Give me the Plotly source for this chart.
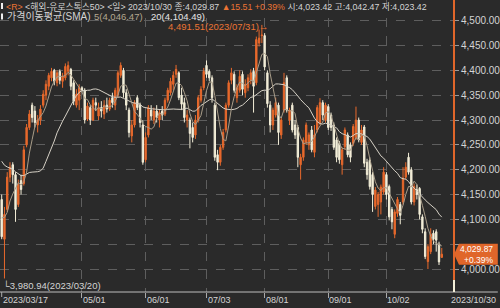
import plotly.graph_objects as go
import pandas as pd

# ---------------- data ----------------
HOLIDAYS = ["2023-04-07", "2023-04-10"]
dates = [d.strftime("%Y-%m-%d") for d in pd.bdate_range("2023-03-17", "2023-10-30")
         if d.strftime("%Y-%m-%d") not in HOLIDAYS]

# closes before the first shown day (only used to seed the moving averages)
prior_close = [4270, 4255, 4260, 4230, 4220, 4245, 4240, 4235, 4215, 4260,
               4290, 4293, 4285, 4290, 4237, 4105, 4135, 4090, 4120]

opens = [4140, 4060, 4120, 4185, 4210, 4190, 4130, 4178, 4172, 4250,
         4285, 4330, 4318, 4290, 4300, 4330, 4350, 4368, 4385, 4400,
         4375, 4398, 4378, 4385, 4398, 4402, 4375, 4330, 4340, 4365,
         4360, 4302, 4325, 4300, 4335, 4308, 4325, 4312, 4330, 4322,
         4345, 4330, 4350, 4390, 4400, 4355, 4320, 4268, 4290, 4345,
         4330, 4290, 4220, 4270, 4320, 4300, 4318, 4300, 4318, 4312,
         4340, 4355, 4372, 4392, 4395, 4350, 4335, 4300, 4300, 4285,
         4270, 4300, 4340, 4365, 4410, 4398, 4385, 4330, 4230, 4215,
         4245, 4280, 4330, 4380, 4392, 4345, 4360, 4392, 4355, 4365,
         4380, 4398, 4375, 4455, 4470, 4470, 4395, 4330, 4290, 4310,
         4330, 4270, 4320, 4385, 4300, 4330, 4290, 4285, 4210, 4225,
         4255, 4250, 4280, 4235, 4280, 4295, 4335, 4300, 4327, 4310,
         4290, 4260, 4253, 4210, 4246, 4270, 4250, 4253, 4265, 4300,
         4255, 4286, 4215, 4219, 4190, 4126, 4130, 4135, 4155, 4190,
         4166, 4120, 4070, 4112, 4130, 4135, 4185, 4225, 4200, 4135,
         4160, 4162, 4105, 4075, 4015, 4035, 4072, 4075, 4050, 4023.42]
highs = [4150, 4125, 4195, 4215, 4215, 4195, 4180, 4190, 4248, 4292,
         4320, 4335, 4328, 4310, 4330, 4360, 4380, 4395, 4405, 4403,
         4400, 4402, 4395, 4414, 4418, 4405, 4380, 4362, 4372, 4368,
         4364, 4335, 4330, 4345, 4345, 4335, 4338, 4340, 4345, 4345,
         4355, 4365, 4400, 4416, 4405, 4362, 4325, 4300, 4340, 4350,
         4335, 4300, 4275, 4330, 4330, 4325, 4330, 4322, 4328, 4345,
         4365, 4385, 4398, 4411, 4398, 4365, 4345, 4320, 4305, 4295,
         4310, 4350, 4368, 4405, 4420, 4402, 4390, 4335, 4240, 4250,
         4282, 4335, 4380, 4405, 4398, 4372, 4400, 4398, 4382, 4392,
         4402, 4405, 4468, 4482, 4491.51, 4475, 4400, 4338, 4325, 4345,
         4335, 4305, 4395, 4390, 4325, 4335, 4300, 4290, 4232, 4265,
         4295, 4275, 4288, 4290, 4330, 4344, 4340, 4335, 4332, 4315,
         4295, 4265, 4258, 4245, 4285, 4275, 4255, 4292, 4327, 4305,
         4290, 4290, 4222, 4225, 4195, 4165, 4155, 4170, 4205, 4195,
         4170, 4125, 4120, 4145, 4135, 4205, 4215, 4234, 4205, 4172,
         4170, 4165, 4110, 4082, 4050, 4082, 4078, 4080, 4055, 4042.47]
lows = [4060, 3980.94, 4115, 4175, 4172, 4095, 4125, 4150, 4168, 4245,
        4280, 4295, 4285, 4275, 4290, 4325, 4340, 4360, 4378, 4370,
        4368, 4372, 4365, 4380, 4390, 4360, 4330, 4325, 4320, 4356,
        4293, 4298, 4290, 4298, 4318, 4300, 4305, 4302, 4315, 4318,
        4325, 4320, 4345, 4385, 4345, 4320, 4265, 4255, 4285, 4320,
        4285, 4210, 4215, 4265, 4300, 4292, 4295, 4285, 4300, 4308,
        4335, 4350, 4360, 4385, 4340, 4320, 4295, 4285, 4243, 4255,
        4262, 4295, 4335, 4360, 4385, 4378, 4335, 4218, 4199, 4208,
        4240, 4275, 4325, 4372, 4355, 4335, 4355, 4350, 4345, 4358,
        4372, 4315, 4370, 4448, 4455, 4400, 4325, 4275, 4280, 4305,
        4250, 4262, 4315, 4315, 4290, 4275, 4262, 4205, 4180, 4218,
        4250, 4240, 4235, 4225, 4275, 4290, 4300, 4295, 4280, 4278,
        4240, 4215, 4212, 4190, 4240, 4225, 4215, 4248, 4260, 4255,
        4250, 4205, 4180, 4160, 4115, 4120, 4105, 4110, 4150, 4140,
        4098, 4080, 4062, 4105, 4090, 4130, 4180, 4190, 4130, 4128,
        4140, 4100, 4072, 4020, 4000, 4030, 4050, 4035, 4008, 4023.42]
closes = [4065, 4110, 4185, 4205, 4190, 4120, 4170, 4160, 4240, 4285,
          4312, 4305, 4295, 4300, 4322, 4352, 4372, 4390, 4398, 4378,
          4395, 4380, 4388, 4408, 4410, 4368, 4338, 4352, 4365, 4360,
          4300, 4328, 4300, 4340, 4330, 4325, 4318, 4330, 4322, 4340,
          4335, 4360, 4395, 4410, 4355, 4330, 4275, 4290, 4335, 4325,
          4295, 4215, 4265, 4325, 4308, 4318, 4305, 4315, 4310, 4340,
          4360, 4378, 4390, 4402, 4345, 4332, 4305, 4310, 4273, 4265,
          4300, 4345, 4362, 4398, 4392, 4385, 4345, 4225, 4215, 4245,
          4275, 4330, 4375, 4395, 4360, 4365, 4388, 4362, 4372, 4385,
          4395, 4368, 4462, 4465, 4471, 4407, 4333, 4290, 4320, 4335,
          4275, 4300, 4375, 4320, 4320, 4280, 4270, 4225, 4225, 4260,
          4290, 4270, 4240, 4270, 4325, 4335, 4310, 4330, 4285, 4285,
          4245, 4225, 4220, 4240, 4280, 4230, 4225, 4287, 4300, 4260,
          4280, 4213, 4190, 4166, 4150, 4159, 4150, 4165, 4195, 4150,
          4105, 4095, 4115, 4140, 4108, 4183.45, 4205, 4195, 4135, 4166,
          4150, 4110, 4080, 4025, 4045, 4070, 4060, 4058.12, 4014.36, 4029.87]

grid_dates = ["2023-05-01", "2023-06-01", "2023-07-03", "2023-08-01", "2023-09-01", "2023-10-02"]
grid_labels = ["05/01", "06/01", "07/03", "08/01", "09/01", "10/02"]
y_ticks = [4000, 4050, 4100, 4150, 4200, 4250, 4300, 4350, 4400, 4450, 4500]
instrument = "해외-유로스톡스50"
period = "일"
sma_title = "가격이동평균(SMA)"

# ---------------- derived ----------------
full = pd.Series(prior_close + closes)
sma5 = full.rolling(5).mean().iloc[len(prior_close):].tolist()
sma20 = full.rolling(20).mean().iloc[len(prior_close):].tolist()

hi_i = max(range(len(highs)), key=lambda k: highs[k])
lo_i = min(range(len(lows)), key=lambda k: lows[k])
last = closes[-1]
chg = closes[-1] - closes[-2]
pct = chg / closes[-2] * 100

# ---------------- style ----------------
BG = "#2a2a2a"
UP = "#e8692c"
DN = "#f3eed8"
GRID = "#5e5e5e"
TXT = "#d4d4d4"
ORG = "#ec7434"
FONT = "Liberation Sans, Noto Sans CJK KR, DejaVu Sans"

W, H_ = 500, 308
ML, MR, MT, MB = 0, 44, 0, 16
PW, PH = W - ML - MR, H_ - MT - MB
YR = [3953.7, 4541.7]
XR = [-0.61, 163.42]
ppu = PH / (YR[1] - YR[0])  # pixels per point


def px(x):
    return x / PW


def py(y):
    return (PH - y) / PH


# tick label for 4,050 is covered by the price tag in the reference
y_ticktext = ["" if v == 4050 else f"{v:,.2f}" for v in y_ticks]

fig = go.Figure()
fig.add_trace(go.Candlestick(
    x=dates, open=opens, high=highs, low=lows, close=closes,
    increasing=dict(line=dict(color=UP, width=1), fillcolor=UP),
    decreasing=dict(line=dict(color=DN, width=1), fillcolor=DN),
    whiskerwidth=0, hoverinfo="skip"))
fig.add_trace(go.Scatter(x=dates, y=sma20, mode="lines",
                         line=dict(color="#d6d1c6", width=1), hoverinfo="skip"))
fig.add_trace(go.Scatter(x=dates, y=sma5, mode="lines",
                         line=dict(color="#a99d89", width=1), hoverinfo="skip"))

fig.update_layout(
    width=W, height=H_, margin=dict(l=ML, r=MR, t=MT, b=MB),
    paper_bgcolor=BG, plot_bgcolor=BG, showlegend=False,
    font=dict(family=FONT, color=TXT, size=10),
    xaxis=dict(type="category", range=XR, tickvals=grid_dates, showticklabels=False,
               ticks="outside", ticklen=5, tickcolor="#aaaaaa",
               showgrid=True, gridcolor=GRID, griddash="dash", gridwidth=1,
               zeroline=False, showline=False, rangeslider=dict(visible=False)),
    yaxis=dict(side="right", range=YR, tickvals=y_ticks, ticktext=y_ticktext,
               ticks="outside", ticklen=4, tickcolor="#9a9a9a",
               tickfont=dict(size=10, color=TXT, family=FONT),
               showgrid=True, gridcolor=GRID, griddash="dash", gridwidth=1,
               zeroline=False, showline=False),
)

shapes = []
# bottom axis line across full width
shapes.append(dict(type="line", xref="paper", yref="paper", x0=0, x1=W / PW, y0=0, y1=0,
                   line=dict(color="#bdbdbd", width=1)))
# first tick mark
shapes.append(dict(type="line", xref="x", yref="paper", x0=dates[0], x1=dates[0], y0=0, y1=-5 / PH,
                   line=dict(color="#aaaaaa", width=1)))
# right border line
shapes.append(dict(type="line", xref="paper", yref="paper", x0=1.0, x1=1.0, y0=py(280), y1=1,
                   line=dict(color="#e0662a", width=2)))
shapes.append(dict(type="line", xref="paper", yref="paper", x0=1.0, x1=1.0, y0=0, y1=py(280),
                   line=dict(color=DN, width=2)))
# header bullets
for yc in (6, 16.5):
    shapes.append(dict(type="rect", xref="paper", yref="paper", x0=px(1), x1=px(3),
                       y0=py(yc + 3), y1=py(yc - 3), fillcolor="#eeeeee", line=dict(width=0)))
# current price tag
hh = 10.5 / ppu
tag = (f"M 1.0,{last} L {px(PW + 5)},{last + hh} L {px(W)},{last + hh} "
       f"L {px(W)},{last - hh} L {px(PW + 5)},{last - hh} Z")
shapes.append(dict(type="path", xref="paper", yref="y", path=tag,
                   fillcolor="#e0662a", line=dict(width=0), layer="above"))
fig.update_layout(shapes=shapes)

ann = []


def txt(x, y, s, color=TXT, size=9.5, anchor="left"):
    ann.append(dict(xref="paper", yref="paper", x=px(x), y=py(y), xanchor=anchor,
                    yanchor="middle", text=s, showarrow=False, borderpad=0,
                    font=dict(size=size, color=color, family=FONT)))


# header line 1 (one text line, like the reference)
date_s = dates[-1].replace("-", "/")
head1 = (f"<span style='color:{ORG}'>&lt;R&gt;</span> &lt;{instrument}&gt; &lt;{period}&gt; {date_s} "
         f"종:{last:,.2f} <span style='color:{ORG}'>▲{chg:,.2f} +{pct:.2f}%</span> "
         f"시:{opens[-1]:,.2f} 고:{highs[-1]:,.2f} 저:{lows[-1]:,.2f}")
txt(5, 6.5, head1, size=8.8)
# header line 2
txt(6, 16.5, sma_title, size=10)
txt(93, 16.5, f"5({sma5[-1]:,.2f})", "#b3a78f")
txt(151, 16.5, f"20({sma20[-1]:,.2f})", "#e6e6e6")

# high / low markers
ann.append(dict(xref="x", yref="y", x=dates[hi_i], y=highs[hi_i], xanchor="right", yanchor="middle",
                xshift=7, yshift=-2, borderpad=0,
                text=f"{highs[hi_i]:,.2f}({dates[hi_i].replace('-', '/')})→", showarrow=False,
                font=dict(size=9.5, color=ORG, family=FONT)))
ann.append(dict(xref="x", yref="y", x=dates[lo_i], y=lows[lo_i], xanchor="left", yanchor="top",
                xshift=-3, yshift=0,
                text=f"└{lows[lo_i]:,.2f}({dates[lo_i].replace('-', '/')})", showarrow=False,
                font=dict(size=9.5, color=TXT, family=FONT)))
# date labels
DFONT = dict(size=9, color=TXT, family=FONT)
ann.append(dict(xref="x", yref="paper", x=dates[0], y=0, xanchor="left", yanchor="top",
                xshift=-1, yshift=-1, text=dates[0].replace("-", "/"), showarrow=False, font=DFONT))
for d, lab in zip(grid_dates, grid_labels):
    ann.append(dict(xref="x", yref="paper", x=d, y=0, xanchor="left", yanchor="top",
                    xshift=-1, yshift=-1, text=lab, showarrow=False, font=DFONT))
ann.append(dict(xref="paper", yref="paper", x=px(W), y=0, xanchor="right", yanchor="top",
                xshift=0, yshift=-1, text=date_s, showarrow=False, font=DFONT))
# price tag text
ann.append(dict(xref="paper", yref="y", x=px(W - 2), y=last, xanchor="right", yanchor="middle",
                text=f"{last:,.2f}<br>+{pct:.2f}%", showarrow=False, align="right",
                font=dict(size=8.5, color="#ffffff", family=FONT)))
fig.update_layout(annotations=ann)

fig.write_html("out.html")
